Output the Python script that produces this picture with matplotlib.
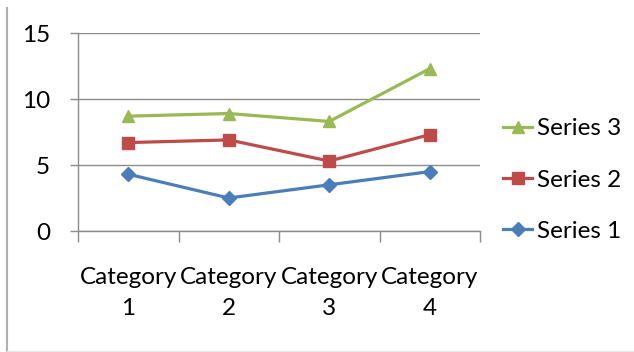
import matplotlib.pyplot as plt
import numpy as np
from matplotlib.lines import Line2D

# stacked line data: each series is drawn on top of the ones before it
categories = ['Category\n1', 'Category\n2', 'Category\n3', 'Category\n4']
series_names = ['Series 1', 'Series 2', 'Series 3']
series1 = [4.3, 2.5, 3.5, 4.5]
series2 = [2.4, 4.4, 1.8, 2.8]
series3 = [2.0, 2.0, 3.0, 5.0]

colors = ['#4A7EBB', '#BE4B48', '#98B954']
markers = ['D', 's', '^']
msizes = [7, 8, 9]

plt.rcParams['font.family'] = ['Lato', 'DejaVu Sans']

fig = plt.figure(figsize=(6.34, 3.52), dpi=100)
ax = fig.add_axes([78 / 634, 1 - 231 / 352, 402 / 634, 198 / 352])

x = np.arange(len(categories)) + 0.5
stacked = np.cumsum([series1, series2, series3], axis=0)
handles = []
for vals, name, c, m, ms in zip(stacked, series_names, colors, markers, msizes):
    ax.plot(x, vals, color=c, lw=2.3, marker=m, ms=ms, mec=c, zorder=3)
    handles.append(Line2D([], [], color=c, lw=2.3, marker=m, ms=ms, mec=c, label=name))

ax.set_xlim(0, len(categories))
ax.set_ylim(0, 15)
ax.set_yticks([0, 5, 10, 15])
ax.grid(axis='y', color='#8c8c8c', lw=1)
ax.set_axisbelow(True)

ax.set_xticks(x)
ax.set_xticklabels(categories, fontsize=17.5, linespacing=1.6)
ax.set_xticks(np.arange(len(categories) + 1), minor=True)
ax.tick_params(axis='x', which='major', length=0, pad=26)
ax.tick_params(axis='x', which='minor', length=8, color='#8c8c8c', width=1)
ax.tick_params(axis='y', length=6, color='#8c8c8c', width=1, labelsize=17.5, pad=14)

for side in ['top', 'right']:
    ax.spines[side].set_visible(False)
for side in ['left', 'bottom']:
    ax.spines[side].set_color('#8c8c8c')
    ax.spines[side].set_linewidth(1)

fig.legend(handles=handles[::-1], loc='center left',
           bbox_to_anchor=(491 / 634, 1 - 180 / 352), frameon=False,
           fontsize=17.5, handlelength=1.2, handletextpad=0.2, labelspacing=1.25,
           borderpad=0)

# chart area border
fig.add_artist(Line2D([7 / 634, 7 / 634], [0.003, 1 - 8 / 352],
                      transform=fig.transFigure, color='#b0b0b0', lw=1.5))
fig.add_artist(Line2D([7 / 634, 1], [0.003, 0.003],
                      transform=fig.transFigure, color='#e8e8e8', lw=1))

plt.savefig('out.png', dpi=100)
